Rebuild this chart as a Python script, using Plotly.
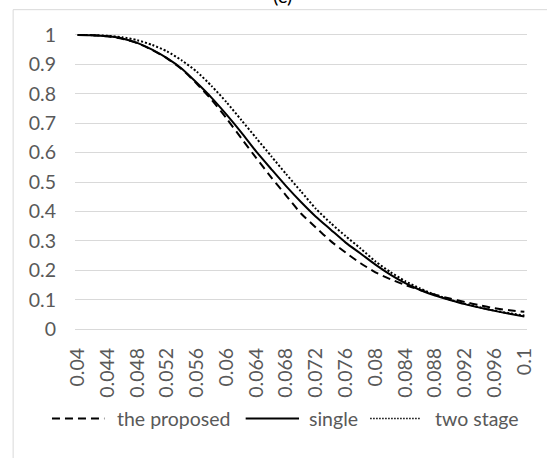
import plotly.graph_objects as go

# ---------------- data ----------------
x_values = [0.040, 0.042, 0.044, 0.046, 0.048, 0.050, 0.052, 0.054, 0.056, 0.058,
            0.060, 0.062, 0.064, 0.066, 0.068, 0.070, 0.072, 0.074, 0.076, 0.078,
            0.080, 0.082, 0.084, 0.086, 0.088, 0.090, 0.092, 0.094, 0.096, 0.098, 0.100]

the_proposed = [1.000, 0.999, 0.995, 0.987, 0.972, 0.949, 0.920, 0.883, 0.834, 0.779,
                0.716, 0.648, 0.581, 0.516, 0.454, 0.393, 0.345, 0.299, 0.260, 0.224,
                0.193, 0.170, 0.150, 0.133, 0.117, 0.104, 0.092, 0.081, 0.071, 0.064, 0.059]

single = [1.000, 0.999, 0.995, 0.988, 0.973, 0.950, 0.921, 0.885, 0.837, 0.786,
          0.729, 0.668, 0.603, 0.544, 0.486, 0.432, 0.382, 0.338, 0.294, 0.257,
          0.219, 0.185, 0.156, 0.133, 0.114, 0.099, 0.085, 0.073, 0.062, 0.052, 0.043]

two_stage = [1.000, 0.999, 0.997, 0.992, 0.982, 0.966, 0.944, 0.913, 0.875, 0.826,
             0.771, 0.710, 0.649, 0.588, 0.527, 0.468, 0.409, 0.360, 0.316, 0.274,
             0.230, 0.194, 0.163, 0.138, 0.117, 0.100, 0.086, 0.074, 0.063, 0.054, 0.046]

x_tick_vals = [0.040, 0.044, 0.048, 0.052, 0.056, 0.060, 0.064, 0.068,
               0.072, 0.076, 0.080, 0.084, 0.088, 0.092, 0.096, 0.100]
x_tick_text = ["0.04", "0.044", "0.048", "0.052", "0.056", "0.06", "0.064", "0.068",
               "0.072", "0.076", "0.08", "0.084", "0.088", "0.092", "0.096", "0.1"]
y_tick_vals = [0, 0.1, 0.2, 0.3, 0.4, 0.5, 0.6, 0.7, 0.8, 0.9, 1.0]
y_tick_text = ["0", "0.1", "0.2", "0.3", "0.4", "0.5", "0.6", "0.7", "0.8", "0.9", "1"]

series_names = ["the proposed", "single", "two stage"]

# ---------------- layout geometry (pixels) ----------------
W, H = 547, 458
L, R = 75.3, 532.7
T, B = 28.8, 334.6
FONT = "Lato"
GRAY = "#595959"


def pxx(px):
    return (px - L) / (R - L)


def pxy(py):
    return (B - py) / (B - T)


fig = go.Figure()
styles = [dict(color="black", width=2, dash="8px,5px"),
          dict(color="black", width=2, dash="solid"),
          dict(color="black", width=2, dash="2px,2px")]
for name, ys, st in zip(series_names, [the_proposed, single, two_stage], styles):
    fig.add_trace(go.Scatter(x=x_values, y=ys, mode="lines", name=name,
                             line=dict(shape="spline", smoothing=0.6, **st),
                             showlegend=False))

shapes = []
annotations = []
# chart frame
shapes.append(dict(type="rect", xref="paper", yref="paper",
                   x0=pxx(12.7), x1=pxx(600), y0=pxy(520), y1=pxy(9.5),
                   line=dict(color="#d9d9d9", width=1), layer="below"))

# manual legend
legend_y = pxy(418)
legend_items = [(52, 105, 116), (248, 302, 310), (374, 425, 438)]
legend_styles = [dict(color="black", width=2, dash="8px,5px"),
                 dict(color="black", width=2, dash="solid"),
                 dict(color="black", width=1.5, dash="1.5px,1.5px")]
for (x0, x1, tx), name, st in zip(legend_items, series_names, legend_styles):
    shapes.append(dict(type="line", xref="paper", yref="paper",
                       x0=pxx(x0), x1=pxx(x1), y0=legend_y, y1=legend_y,
                       line=st))
    annotations.append(dict(xref="paper", yref="paper", x=pxx(tx), y=legend_y,
                            xanchor="left", yanchor="middle", text=name,
                            showarrow=False, font=dict(family=FONT, size=19.5, color=GRAY)))

# cropped title
annotations.append(dict(xref="paper", yref="paper", x=pxx(285.7), y=pxy(9),
                        xanchor="center", yanchor="bottom", text="(c)",
                        showarrow=False, font=dict(family=FONT, size=20, color="black")))

fig.update_layout(
    width=W, height=H,
    margin=dict(l=L, r=W - R, t=T, b=H - B, pad=0),
    paper_bgcolor="white", plot_bgcolor="white",
    font=dict(family=FONT, size=19.5, color=GRAY),
    shapes=shapes, annotations=annotations,
    showlegend=False,
    xaxis=dict(range=[0.04 - 2.7 / 452 * 0.06, 0.1 + 2.7 / 452 * 0.06],
               tickmode="array", tickvals=x_tick_vals, ticktext=x_tick_text,
               tickangle=-90, showgrid=False, zeroline=False, showline=False,
               ticks="", ticklabelstandoff=8,
               tickfont=dict(family=FONT, size=19.5, color=GRAY)),
    yaxis=dict(range=[-0.02, 1.02], tickmode="array", tickvals=y_tick_vals,
               ticktext=y_tick_text, showgrid=True, gridcolor="#d9d9d9", gridwidth=1,
               zeroline=False, showline=False, ticks="", ticklabelstandoff=18,
               tickfont=dict(family=FONT, size=19.5, color=GRAY)),
)

fig.write_html("out.html")
